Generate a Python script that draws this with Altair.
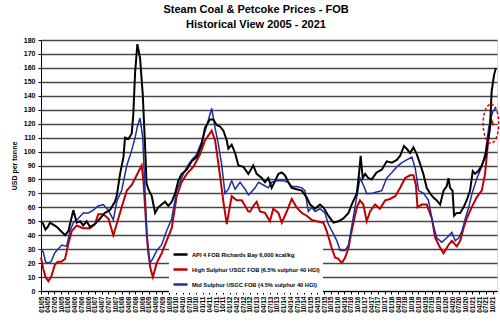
import altair as alt
import pandas as pd

TITLE = ["Steam Coal & Petcoke Prices - FOB", "Historical View 2005 - 2021"]
Y_TITLE = "USD per tonne"
SERIES = [
    "API 4 FOB Richards Bay 6,000 kcal/kg",
    "High Sulphur USGC FOB (6.5% sulphur 40 HGI)",
    "Mid Sulphur USGC FOB (4.5% sulphur 40 HGI)",
]
COLORS = ["#000000", "#c00000", "#1c2ea0"]

# x = months since Jan 2005
api4_m = [0, 1, 2, 3, 4, 7, 10.7, 12.2, 14.4, 15.9, 17.4, 18.8, 20.3, 21.8, 24.0, 26.3, 28.5, 30.7,
          32.9, 33.7, 35.2, 36.7, 37.4, 38.9, 40.4, 41.1, 41.9, 42.9, 44.1, 45.3, 46.3, 47.0, 47.8,
          49.3, 50.8, 52.2, 53.7, 55.2, 56.7, 58.2, 59.7, 61.1, 62.6, 64.9, 67.1, 69.3, 71.5, 73.0,
          75.2, 76.7, 78.2, 79.7, 81.2, 82.7, 83.4, 84.9, 86.4, 87.9, 90.1, 92.3,
          93.1, 94.5, 96.0, 98.3, 99.7, 101.2, 102.7, 104.2, 105.7, 107.2, 108.6, 110.1, 111.6,
          113.8, 116.1, 118.3, 119.8, 122.0, 124.2, 125.7, 127.9, 130.2, 132.4, 134.6, 136.9,
          138.3, 140.6, 141.7, 142.3, 143.2, 144.3, 145.7, 147.2, 149.4, 151.7, 153.9, 156.2,
          158.4, 159.9, 161.6, 162.8, 164.3, 165.8, 167.3, 168.8, 170.2, 171.7, 173.2, 174.7,
          176.2, 177.7, 179.2, 180.6, 181.4, 182.1, 183.2, 183.9, 185.1, 186.6, 188.1, 189.5,
          191.0, 192.2, 193.2, 194.7, 196.2, 197.7, 198.7, 199.9, 200.6, 201.7, 202.5]
api4_v = [50, 48, 44, 46, 49, 46, 40, 43, 58, 49, 50, 47, 50, 46, 48, 52, 56, 58,
          64, 68, 84, 96, 110, 109, 113, 127, 157, 177, 167, 141, 105, 77, 73,
          68, 56, 60, 62, 64, 61, 64, 70, 79, 84, 87, 93, 96, 105, 117,
          123, 123, 119, 118, 115, 108, 102, 105, 99, 90, 89, 84,
          86, 90, 84, 81, 78, 81, 74, 79, 84, 85, 83, 78, 74,
          73, 72, 67, 62, 59, 62, 60, 54, 49, 50, 52, 56,
          62, 70, 86, 97, 81, 84, 81, 80, 85, 87, 93, 92,
          94, 97, 104, 102, 99, 103, 98, 91, 84, 74, 70, 67,
          65, 62, 72, 75, 81, 74, 72, 54, 56, 56, 60, 65,
          72, 86, 84, 86, 90, 96, 105, 117, 143, 155, 160]

hs_m = [0, 1, 2, 3.3, 4.5, 6.2, 7.5, 9.0, 10.7, 12.2, 13.7, 15.9, 18.8, 21.8, 24.0, 25.5, 27.7,
        30.0, 32.2, 33.7, 35.9, 38.2, 40.4, 42.6, 44.8, 45.6, 47.1, 48.6, 49.8, 51.5, 53.7, 55.9,
        58.2, 60.4, 62.6, 64.9, 67.8, 70.8, 73.0, 76.0, 77.5, 79.0, 81.2, 82.7, 84.9, 87.1, 89.4,
        90.9, 92.3,
        93.1, 94.5, 96.0, 97.5, 99.7, 101.9, 103.4, 105.7, 107.2, 109.4, 111.6, 113.8, 116.1,
        118.3, 120.5, 122.7, 125.7, 127.2, 129.4, 130.9, 132.4, 133.9, 135.4, 136.9, 138.3,
        140.6, 142.0, 143.5, 145.0, 146.5, 148.7, 150.9, 153.2, 155.4, 157.7, 159.9, 162.1,
        164.3, 165.8, 166.9, 167.6, 169.5, 171.7, 174.0, 175.5, 177.7, 179.2, 181.4, 182.9,
        185.1, 186.6, 188.1, 189.5, 191.7, 193.9, 196.2, 197.7, 199.2, 200.2, 201.3]
hs_v = [24, 16, 10, 7, 10, 19, 21, 21, 23, 34, 43, 47, 45, 45, 48, 55, 55,
        52, 40, 48, 60, 72, 76, 83, 90, 79, 40, 17, 10, 20, 27, 36,
        45, 68, 78, 84, 89, 98, 108, 115, 108, 91, 64, 48, 68, 65, 65,
        61, 57,
        57, 61, 64, 57, 56, 50, 59, 56, 49, 57, 66, 60, 56,
        54, 51, 50, 49, 43, 31, 24, 23, 20, 24, 31, 43,
        60, 65, 62, 50, 57, 62, 59, 65, 66, 68, 74, 81,
        83, 83, 76, 60, 62, 62, 52, 38, 31, 27, 33, 36,
        32, 36, 45, 52, 60, 67, 72, 84, 110, 124, 119]

ms_m = [0, 1, 2, 3, 4.5, 6, 7, 9.3, 11.4, 12.9, 14.4, 16.6, 18.8, 21.1, 23.3, 25.5, 27.7, 30.0,
        32.2, 33.7, 35.9, 38.2, 40.4, 41.9, 42.9, 44.1, 45.3, 46.3, 47.5, 48.5, 50.0, 51.5, 53.7,
        55.9, 58.2, 60.4, 62.6, 64.9, 67.1, 69.3, 71.5, 73.7, 76.0, 77.5, 79.0, 80.4, 81.9, 83.4,
        84.9, 86.4, 88.6, 90.9, 92.3,
        93.1, 95.3, 96.8, 99.0, 101.2, 102.7, 104.9, 107.9, 110.1, 111.6, 113.8, 116.1, 117.5,
        119.0, 120.5, 122.0, 124.2, 126.4, 127.9, 130.2, 131.7, 133.2, 135.4, 136.9, 138.3,
        140.3, 142.0, 143.5, 145.0, 147.2, 149.4, 151.7, 153.9, 156.2, 158.4, 160.6, 162.8,
        165.1, 166.6, 168.1, 170.3, 172.5, 174.5, 176.2, 178.4, 180.6, 182.9, 184.4, 185.9,
        187.4, 188.9, 190.4, 191.9, 194.1, 196.4, 197.9, 199.3, 200.4, 201.3, 202.3]
ms_v = [30, 28, 21, 20, 21, 27, 29, 33, 32, 43, 49, 52, 56, 56, 58, 61, 62, 58,
        51, 64, 72, 90, 101, 110, 118, 124, 110, 72, 29, 20, 24, 29, 33,
        43, 52, 72, 81, 89, 94, 98, 107, 118, 131, 117, 105, 91, 70, 73,
        79, 73, 78, 73, 69,
        70, 74, 78, 76, 74, 78, 79, 79, 78, 75, 75, 74, 72,
        57, 60, 57, 59, 56, 48, 41, 36, 29, 29, 33, 46,
        65, 81, 76, 70, 70, 71, 72, 81, 85, 89, 92, 94,
        96, 88, 72, 70, 65, 48, 38, 35, 38, 42, 36, 38,
        43, 52, 60, 70, 81, 90, 100, 117, 125, 129, 131]

# quarterly tick labels
TICK_MONTHS = list(range(0, 204, 3))
TICK_LABELS = [f"{mm}/{yy:02d}" for yy in range(5, 22) for mm in ("01", "04", "07", "10")]

# dashed highlight ellipse (annotation)
ELLIPSE_M = [200.3]
ELLIPSE_V = [120]

FONT = "Liberation Sans"

frames = []
for name, ms, vs in [(SERIES[0], api4_m, api4_v), (SERIES[1], hs_m, hs_v), (SERIES[2], ms_m, ms_v)]:
    frames.append(pd.DataFrame({"m": ms, "v": vs, "series": name}))
df = pd.concat(frames, ignore_index=True)

label_expr = "[" + ",".join(f"'{t}'" for t in TICK_LABELS) + "][round(datum.value/3)]"

x_enc = alt.X("m:Q", scale=alt.Scale(domain=[0, 203], nice=False, zero=False),
              axis=alt.Axis(values=TICK_MONTHS, labelExpr=label_expr, labelAngle=270,
                            labelFontSize=6.5, labelFont=FONT, labelFontWeight="bold",
                            labelColor="#000", labelOverlap=False, labelPadding=2,
                            labelBound=False, labelFlush=False,
                            tickSize=3, tickColor="#000", domainColor="#000",
                            grid=False, title=None))
y_enc = alt.Y("v:Q", scale=alt.Scale(domain=[0, 180], nice=False),
              axis=alt.Axis(values=list(range(0, 190, 10)), labelFontSize=7, labelFont=FONT,
                            labelFontWeight="bold", labelColor="#000", labelPadding=3,
                            labelOverlap=False, labelFlush=False,
                            tickSize=3, tickColor="#000", domainColor="#000",
                            grid=True, gridColor="#474747", gridWidth=1.3,
                            title=Y_TITLE, titleFont=FONT, titleFontSize=7,
                            titleFontWeight="bold", titleColor="#000", titlePadding=6))

color_scale = alt.Scale(domain=SERIES, range=COLORS)
legend = alt.Legend(orient="none", legendX=128, legendY=203, title=None,
                    fillColor="white", padding=3, symbolType="stroke", symbolSize=196,
                    symbolStrokeWidth=2.5, labelFont=FONT, labelFontSize=5.7,
                    labelFontWeight="bold", labelColor="#000", labelLimit=0,
                    rowPadding=1, labelOffset=3)

def series_line(name, width):
    return alt.Chart(df[df.series == name]).mark_line(strokeWidth=width).encode(
        x=x_enc, y=y_enc,
        color=alt.Color("series:N", scale=color_scale, legend=legend),
    )

ellipse_path = ("M0,-1 C0.22,-1 0.4,-0.55 0.4,0 C0.4,0.55 0.22,1 0,1 "
                "C-0.22,1 -0.4,0.55 -0.4,0 C-0.4,-0.55 -0.22,-1 0,-1 Z")
ellipse = alt.Chart(pd.DataFrame({"m": ELLIPSE_M, "v": ELLIPSE_V})).mark_point(
    shape=ellipse_path, size=1521, filled=False, color="#e00000", strokeWidth=1.5,
    strokeDash=[3, 2], opacity=1).encode(x=x_enc, y=y_enc)

chart = alt.layer(
    series_line(SERIES[1], 2),
    series_line(SERIES[2], 1.5),
    series_line(SERIES[0], 2),
    ellipse,
).properties(
    width=456, height=251,
    title=alt.Title(TITLE, font=FONT, fontSize=11, fontWeight="bold", color="#000",
                    anchor="middle", frame="bounds", lineHeight=15, offset=6),
    autosize=alt.AutoSizeParams(type="none"),
    padding={"left": 41, "top": 40, "right": 3, "bottom": 35},
).configure_view(strokeWidth=0).configure(background="white")

chart.save("out.html", embed_options={"renderer": "svg", "actions": False})
